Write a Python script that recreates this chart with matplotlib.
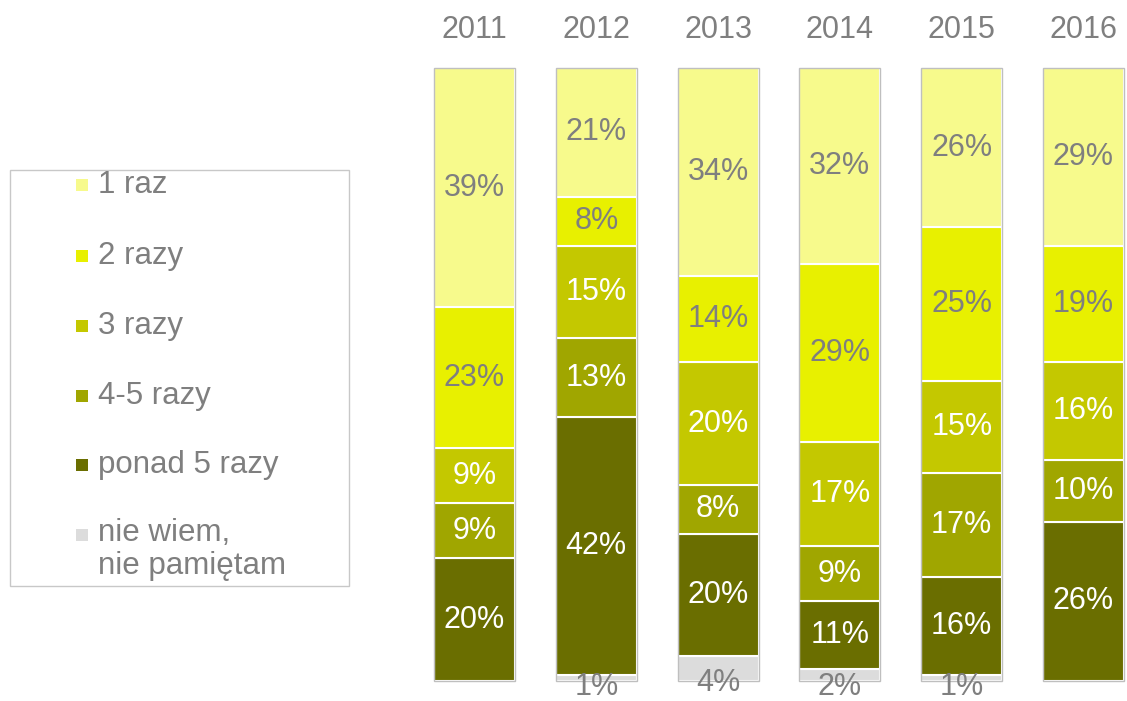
import matplotlib
matplotlib.use("Agg")
import matplotlib.pyplot as plt
from matplotlib.patches import Rectangle
import numpy as np

plt.rcParams['font.family'] = ['Liberation Sans', 'DejaVu Sans']

years = ['2011', '2012', '2013', '2014', '2015', '2016']
categories = ['nie wiem,\nnie pamiętam', 'ponad 5 razy', '4-5 razy', '3 razy', '2 razy', '1 raz']
nie_wiem = [0, 1, 4, 2, 1, 0]
ponad5 = [20, 42, 20, 11, 16, 26]
razy45 = [9, 13, 8, 9, 17, 10]
razy3 = [9, 15, 20, 17, 15, 16]
razy2 = [23, 8, 14, 29, 25, 19]
raz1 = [39, 21, 34, 32, 26, 29]
series = [nie_wiem, ponad5, razy45, razy3, razy2, raz1]
colors = ['#DCDCDC', '#6A6E00', '#A0A600', '#C4C800', '#E8F000', '#F7FA8C']
label_colors = ['#7F7F7F', 'white', 'white', 'white', '#7F7F7F', '#7F7F7F']

W, H = 1127, 701
fig = plt.figure(figsize=(W / 100, H / 100), dpi=100)

spacing = 121.8
x0px = 474.5
left_px = x0px - 0.5 * spacing
ax = fig.add_axes([left_px / W, 0, 1 - left_px / W, 1])
xmax = (W - left_px) / spacing - 0.5
ax.set_xlim(-0.5, xmax)
ppp = 6.13  # pixels per percent
ax.set_ylim(-20 / ppp, (H - 20) / ppp)
ax.axis('off')

x = np.arange(len(years))
bw = 0.665
bottom = np.zeros(len(years))
for s, c, lc in zip(series, colors, label_colors):
    vals = np.array(s, dtype=float)
    ax.bar(x, vals, bw, bottom=bottom, color=c, edgecolor='white', linewidth=1.5, zorder=2)
    for i, v in enumerate(vals):
        if v <= 0:
            continue
        center = bottom[i] + v / 2
        if c == '#DCDCDC':
            y = max(center - 2.3, -0.9)
        else:
            y = center
        ax.text(x[i], y, f'{int(v)}%', ha='center', va='center', fontsize=22,
                color=lc, zorder=4)
    bottom += vals

total = bottom
ax.bar(x, total, bw, bottom=0, fill=False, edgecolor='#BFBFBF', linewidth=1.0, zorder=3)

for i, yr in enumerate(years):
    ax.text(x[i], 106.2, yr, ha='center', va='center', fontsize=22, color='#7F7F7F')

# Legend
lax = fig.add_axes([0, 0, 1, 1], facecolor='none')
lax.set_xlim(0, W)
lax.set_ylim(H, 0)
lax.axis('off')
lax.add_patch(Rectangle((10, 170), 339, 416, fill=False, edgecolor='#C8C8C8', linewidth=1.0))
legend_y = [185, 256, 326, 396, 465, 535]
for cat, c, yy in zip(categories[::-1], colors[::-1], legend_y):
    lax.add_patch(Rectangle((76, yy - 6), 12, 12, facecolor=c, edgecolor='none'))
    if '\n' in cat:
        lax.text(98, yy - 17, cat, ha='left', va='top',
                 fontsize=22.5, color='#7F7F7F', linespacing=1.12)
    else:
        lax.text(98, yy, cat, ha='left', va='center',
                 fontsize=22.5, color='#7F7F7F')
fig.savefig('out.png', dpi=100)
